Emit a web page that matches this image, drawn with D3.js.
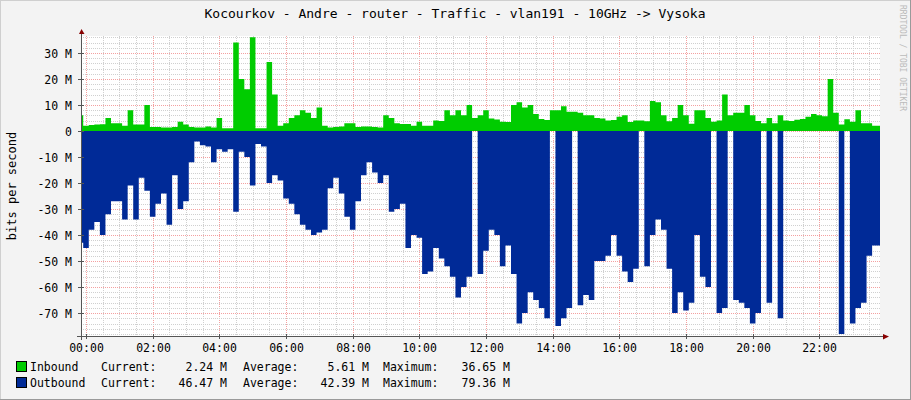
<!DOCTYPE html>
<html><head><meta charset="utf-8">
<script src="https://cdn.jsdelivr.net/npm/d3@7"></script>
<style>body{margin:0;background:#f3f3f3}svg{display:block}text{font-family:"DejaVu Sans Mono",monospace;fill:#000}</style>
</head><body><svg id="c" width="911" height="400"></svg>
<script>
const title = "Kocourkov - Andre - router - Traffic - vlan191 - 10GHz -> Vysoka";
const xTickLabels = ["00:00","02:00","04:00","06:00","08:00","10:00","12:00","14:00","16:00","18:00","20:00","22:00"];
const yTicks = [30,20,10,0,-10,-20,-30,-40,-50,-60,-70];
// 10-minute samples starting at -10 min (Mbit/s)
const inbound = [6,2,2.3,2.5,2.6,5,3,3,2,8,2.5,2.5,10,1.5,1.5,1.3,1.3,1.5,3.5,2.5,1.5,1.3,1.3,1.7,1.3,5,1,1,34,20,16,36,1,1,26.5,14,2,3,
 5,6,8,7,5,9,2,1.3,1.5,1.7,3,3,1.5,1.7,1.7,1.5,1.3,6,5,3,2.7,2.7,2,3.5,2,2,4,3.8,8,6,8,6,10,5,6,
 8,4.8,4.4,3.5,3.4,10,11,9,10,6.5,4.6,4.2,8,8,9.5,7.4,7.4,7,6,6,5,4.8,4,4.2,5.5,6,3.4,4,4,3.7,11.5,11,6,3.7,5,10,
 6,2.8,8,8,5,3.5,4,14,6,7,7,10,6,3.8,3,5,3,6,4,3.8,4.3,4.6,5.5,6.5,6,5.7,20,7,2.5,4.5,3.5,8,3,3,2];
const outbound = [43,45,38,35,40,32,27,27,34,21,34,18,23,33,28,24,36,17,30,27,12,4,5.5,6,12,7,8,7,31,8,10,21,5,6,20,17,19,26,
 28,32,36,38,40,39,38,22,18,24,33,38,27,17,12,16,20,17,31,30,28,45,40,41,55,54,45,49,52,56,64,60,56,0,55,
 46,38,40,52,44,55,74,70,62,65,68,72,0,75,72,68,0,67,63,65,50,50,48,40,48,54,58,53,0,52,40,34,38,53,70,62,
 69,66,40,56,60,0,70,68,0,65,66,68,74,70,0,66,0,72,0,0,0,0,0,0,0,0,0,0,78,0,74,68,66,48,44];
const legendRows = [
 {name:"Inbound", color:"#00cc00", cur:"2.24 M", avg:"5.61 M", max:"36.65 M"},
 {name:"Outbound", color:"#002a97", cur:"46.47 M", avg:"42.39 M", max:"79.36 M"}];
const times = inbound.map((d,i)=> -10 + 10*i);

const svg = d3.select("#c");
const L=81, R=880, T=36, B=336;
const x = d3.scaleLinear().domain([0,1440]).range([86,886]);
const y = d3.scaleLinear().domain([-78.8,36.5]).range([B,T]);

svg.append("rect").attr("x",0.5).attr("y",0.5).attr("width",910).attr("height",399).attr("fill","#f3f3f3").attr("stroke","#cfcfcf");
svg.append("line").attr("x1",0).attr("x2",911).attr("y1",399.5).attr("y2",399.5).attr("stroke","#9a9a9a");
svg.append("line").attr("x1",910.5).attr("x2",910.5).attr("y1",0).attr("y2",400).attr("stroke","#9a9a9a");
svg.append("rect").attr("x",L).attr("y",T).attr("width",R-L).attr("height",B-T).attr("fill","#fff");

const g = svg.append("g");
// grid
for(let m=0;m<=1440;m+=30){const xx=Math.round(x(m))+0.5; if(xx<L||xx>R)continue;
  g.append("line").attr("x1",xx).attr("x2",xx).attr("y1",T).attr("y2",B)
   .attr("stroke", m%120===0?"#f4a0a0":"#d0d0d0").attr("stroke-dasharray","1,1");}
for(let v=-78;v<=36;v+=2){const yy=Math.round(y(v))+0.5;
  g.append("line").attr("x1",L).attr("x2",R).attr("y1",yy).attr("y2",yy)
   .attr("stroke", v%10===0?"#f4a0a0":"#d0d0d0").attr("stroke-dasharray","1,1");}

svg.append("clipPath").attr("id","cp").append("rect").attr("x",L+1).attr("y",T).attr("width",R-L-1).attr("height",B-T);
const pts = (arr,s)=>{const p=arr.map((v,i)=>({t:times[i]-5,v:s*v})); p.push({t:1445,v:s*arr[arr.length-1]}); return p;};
const area = d3.area().curve(d3.curveStepAfter).x(d=>x(d.t)).y0(y(0)).y1(d=>y(d.v));
const pg = svg.append("g").attr("clip-path","url(#cp)");
pg.append("path").attr("d",area(pts(outbound,-1))).attr("fill","#002a97");
pg.append("path").attr("d",area(pts(inbound,1))).attr("fill","#00cc00");

// axes
svg.append("line").attr("x1",L+0.5).attr("x2",L+0.5).attr("y1",B+4).attr("y2",31).attr("stroke","#555");
svg.append("path").attr("d",`M${L-2},34L${L+3.5},34L${L+0.5},29Z`).attr("fill","#800");
svg.append("line").attr("x1",L-4).attr("x2",884).attr("y1",B+0.5).attr("y2",B+0.5).attr("stroke","#555");
svg.append("path").attr("d",`M883,${B-2}L883,${B+3.5}L889,${B+0.5}Z`).attr("fill","#800");
yTicks.forEach(v=>{const yy=Math.round(y(v))+0.5;
  svg.append("line").attr("x1",L-3).attr("x2",L+3).attr("y1",yy).attr("y2",yy).attr("stroke","#555");
  svg.append("text").attr("x",72).attr("y",yy+4).attr("text-anchor","end").attr("font-size",11.5)
   .attr("xml:space","preserve").text(v===0?"0":(v<0?"-":"")+Math.abs(v)+" M");});
xTickLabels.forEach((lab,i)=>{const xx=Math.round(x(i*120))+0.5;
  svg.append("line").attr("x1",xx).attr("x2",xx).attr("y1",B-2).attr("y2",B+3).attr("stroke","#555");
  svg.append("text").attr("x",xx).attr("y",B+16).attr("text-anchor","middle").attr("font-size",11.5).text(lab);});

svg.append("text").attr("x",455).attr("y",18).attr("text-anchor","middle").attr("font-size",13).text(title);
svg.append("text").attr("transform","translate(16,186) rotate(-90)").attr("text-anchor","middle").attr("font-size",12).text("bits per second");
svg.append("text").attr("transform","translate(900,5) rotate(90)").attr("font-size",8).style("fill","#bbb").text("RRDTOOL / TOBI OETIKER");

legendRows.forEach((r,i)=>{const yy=371+16*i;
  svg.append("rect").attr("x",16.5).attr("y",yy-9.5).attr("width",10).attr("height",10).attr("fill",r.color).attr("stroke","#000");
  const t=(xx,s,a)=>svg.append("text").attr("x",xx).attr("y",yy).attr("font-size",11.5).attr("text-anchor",a||"start").text(s);
  t(30,r.name); t(101,"Current:"); t(227,r.cur,"end"); t(243,"Average:"); t(369,r.avg,"end"); t(383,"Maximum:"); t(510,r.max,"end");});
</script></body></html>
